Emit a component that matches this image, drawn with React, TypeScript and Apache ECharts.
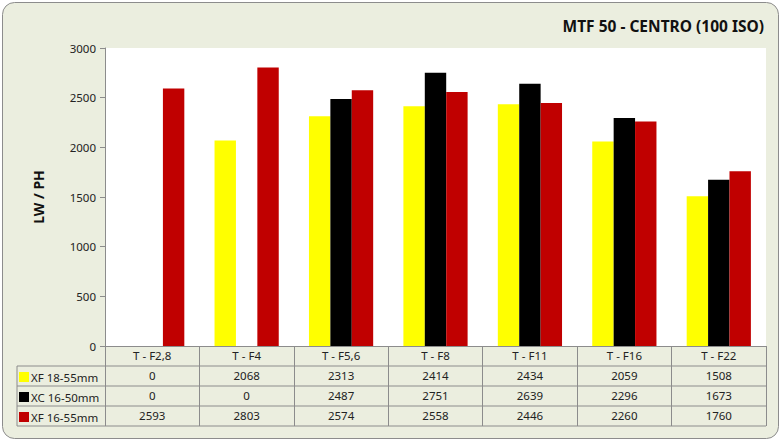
import React, { useEffect, useRef } from "react";
import * as echarts from "echarts";

const categories = ["T - F2,8", "T - F4", "T - F5,6", "T - F8", "T - F11", "T - F16", "T - F22"];
const seriesNames = ["XF 18-55mm", "XC 16-50mm", "XF 16-55mm"];
const xf1855 = [0, 2068, 2313, 2414, 2434, 2059, 1508];
const xc1650 = [0, 0, 2487, 2751, 2639, 2296, 1673];
const xf1655 = [2593, 2803, 2574, 2558, 2446, 2260, 1760];
const seriesColors = ["#FFFF00", "#000000", "#C00000"];
const yTicks = { min: 0, max: 3000, interval: 500 };

const BG = "#EBEEDF";
const LINE = "#8C8C8C";
const FONT = "Noto Sans";

export default function App() {
  const ref = useRef<HTMLDivElement>(null);
  useEffect(() => {
    const chart = echarts.init(ref.current!, null, { renderer: "svg" });
    const values = [xf1855, xc1650, xf1655];
    const gl = 105, gr = 766, gb = 346;
    const tableLeft = 17;
    const rowH = 20;
    const valueAxes = values.map((arr, i) => ({
      type: "category" as const,
      position: "bottom" as const,
      gridIndex: 0,
      offset: rowH * (i + 1),
      data: arr.map((v) => String(v)),
      axisLine: { show: false },
      axisTick: { show: false },
      axisLabel: { interval: 0, margin: 3, fontFamily: FONT, fontSize: 11.5, color: "#222" },
    }));
    const hLines = [1, 2, 3, 4].map((k) => ({
      type: "line",
      z: 5,
      shape: { x1: tableLeft, y1: gb + rowH * k, x2: gr, y2: gb + rowH * k },
      style: { stroke: LINE, lineWidth: 1 },
    }));
    const legends = seriesNames.map((name, i) => ({
      orient: "horizontal",
      left: 19,
      top: gb + rowH * (i + 1) + 5,
      itemWidth: 10,
      itemHeight: 10,
      icon: "rect",
      data: [name],
      textStyle: { fontFamily: FONT, fontSize: 11.5, color: "#222", padding: [0, 0, 0, -3] },
      padding: 0,
      selectedMode: false,
    }));
    chart.setOption({
      animation: false,
      backgroundColor: "transparent",
      title: {
        text: "MTF 50 - CENTRO (100 ISO)",
        right: 13,
        top: 13,
        textStyle: { fontFamily: FONT, fontSize: 15.5, fontWeight: "bold", color: "#111" },
      },
      grid: {
        left: gl,
        right: 782 - gr,
        top: 48,
        bottom: 442 - gb,
        show: true,
        backgroundColor: "#FFFFFF",
        borderWidth: 0,
      },
      legend: legends,
      xAxis: [
        {
          type: "category",
          data: categories,
          position: "bottom",
          axisLine: { show: true, lineStyle: { color: LINE } },
          axisTick: { show: true, alignWithLabel: false, interval: 0, length: rowH * 4, lineStyle: { color: LINE } },
          axisLabel: { interval: 0, margin: 3, fontFamily: FONT, fontSize: 11.5, color: "#222" },
        },
        ...valueAxes,
      ],
      yAxis: {
        type: "value",
        min: yTicks.min,
        max: yTicks.max,
        interval: yTicks.interval,
        name: "LW / PH",
        nameLocation: "middle",
        nameGap: 60,
        nameRotate: 90,
        nameTextStyle: { fontFamily: FONT, fontSize: 14, fontWeight: "bold", color: "#111" },
        axisLine: { show: true, lineStyle: { color: LINE } },
        axisTick: { show: true, length: 5, lineStyle: { color: LINE } },
        splitLine: { show: false },
        axisLabel: { margin: 9, fontFamily: FONT, fontSize: 11.5, color: "#222", formatter: (v: number) => String(v) },
      },
      series: values.map((arr, i) => ({
        name: seriesNames[i],
        type: "bar",
        xAxisIndex: 0,
        data: arr,
        barGap: "0%",
        barCategoryGap: "32%",
        itemStyle: { color: seriesColors[i] },
      })),
      graphic: {
        elements: [
          {
            type: "rect",
            z: -100,
            silent: true,
            shape: { x: 2.5, y: 2.5, width: 776, height: 436, r: 12 },
            style: { fill: BG, stroke: LINE, lineWidth: 1 },
          },
          ...hLines,
          {
            type: "line",
            z: 5,
            shape: { x1: tableLeft, y1: gb + rowH, x2: tableLeft, y2: gb + rowH * 4 },
            style: { stroke: LINE, lineWidth: 1 },
          },
        ],
      },
    });
    return () => chart.dispose();
  }, []);
  return (
    <div
      ref={ref}
      style={{ position: "fixed", left: 0, top: 0, width: 782, height: 442, background: "#FFFFFF" }}
    />
  );
}
